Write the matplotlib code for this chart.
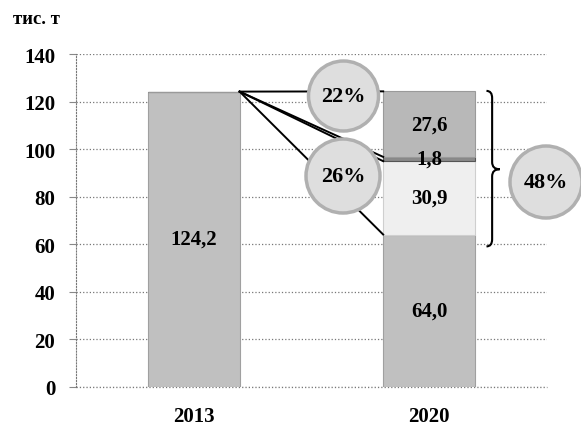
import matplotlib
matplotlib.use("Agg")
import matplotlib.pyplot as plt
from matplotlib.patches import Circle, PathPatch
from matplotlib.path import Path

plt.rcParams["font.family"] = ["Liberation Serif", "DejaVu Serif"]
plt.rcParams["font.weight"] = "bold"

# --- данные ---
years = ["2013", "2020"]
s_base = [124.2, 64.0]      # нижний сегмент
s_light = [0.0, 30.9]
s_thin = [0.0, 1.8]
s_top = [0.0, 27.6]
yticks = [0, 20, 40, 60, 80, 100, 120, 140]
unit_label = "тис. т"
pct_labels = ["22%", "26%", "48%"]

series = [s_base, s_light, s_thin, s_top]
colors = ["#c0c0c0", "#efefef", "#8a8a8a", "#b8b8b8"]
edges = ["#a0a0a0", "#cfcfcf", "#555555", "#9a9a9a"]

fig = plt.figure(figsize=(5.81, 4.27), dpi=100)
ax = fig.add_axes([0.131, 0.0925, 0.81, 0.7785])

x = [0, 1]
w = 0.39
bottoms = [0.0, 0.0]
tops = []
for vals, c, ec in zip(series, colors, edges):
    ax.bar(x, vals, w, bottom=bottoms, color=c, edgecolor=ec, lw=0.8, zorder=2)
    for i, v in enumerate(vals):
        if v > 0:
            ax.text(x[i], bottoms[i] + v / 2, f"{v:.1f}".replace(".", ","),
                    ha="center", va="center", fontsize=15, fontweight="bold", zorder=5)
    bottoms = [b + v for b, v in zip(bottoms, vals)]
    tops.append(list(bottoms))

# линии рядов между столбцами
for t in tops:
    ax.plot([x[0] + w / 2, x[1] - w / 2], [t[0], t[1]], color="black", lw=1.4, zorder=3)

ax.set_xlim(-0.5, 1.5)
ax.set_ylim(0, 140)
ax.set_yticks(yticks)
ax.set_xticks(x)
ax.set_xticklabels(years)
ax.tick_params(axis="x", length=0, pad=14, labelsize=15)
ax.tick_params(axis="y", length=5, color="#888888", pad=10, labelsize=15)
for lab in ax.get_xticklabels() + ax.get_yticklabels():
    lab.set_fontweight("bold")
ax.yaxis.grid(True, ls=":", color="#777777", lw=0.9)
ax.axhline(0, ls=":", color="#777777", lw=0.9, zorder=1, clip_on=False)
ax.set_axisbelow(True)
for s in ["top", "right", "bottom"]:
    ax.spines[s].set_visible(False)
ax.spines["left"].set_linestyle(":")
ax.spines["left"].set_color("#777777")

fig.text(0.022, 0.955, unit_label, fontsize=13.5, fontweight="bold", va="center")

# фигурная скобка справа
tr = ax.get_yaxis_transform()
x0, x1, x2 = 0.872, 0.884, 0.9
ytop, ybot, ymid, d = 124.5, 59.0, 91.5, 3.0
verts = [(x0, ytop), (x1, ytop), (x1, ytop - d),
         (x1, ymid + d), (x1, ymid), (x2, ymid),
         (x1, ymid), (x1, ymid - d),
         (x1, ybot + d), (x1, ybot), (x0, ybot)]
codes = [Path.MOVETO, Path.CURVE3, Path.CURVE3,
         Path.LINETO, Path.CURVE3, Path.CURVE3,
         Path.CURVE3, Path.CURVE3,
         Path.LINETO, Path.CURVE3, Path.CURVE3]
ax.add_patch(PathPatch(Path(verts, codes), transform=tr, fill=False,
                       lw=1.5, color="black", clip_on=False, zorder=4))

# круги с процентами
ft = fig.dpi_scale_trans
for (cx, cy, r), lab in zip([(3.435, 3.30, 0.35), (3.43, 2.50, 0.37), (5.46, 2.44, 0.36)], pct_labels):
    fig.add_artist(Circle((cx, cy), r, transform=ft, facecolor="#dedede",
                          edgecolor="#b0b0b0", lw=2.5, zorder=6))
    fig.text(cx, cy, lab, transform=ft, ha="center", va="center",
             fontsize=16, fontweight="bold", zorder=7)

fig.savefig("out.png", dpi=100)
